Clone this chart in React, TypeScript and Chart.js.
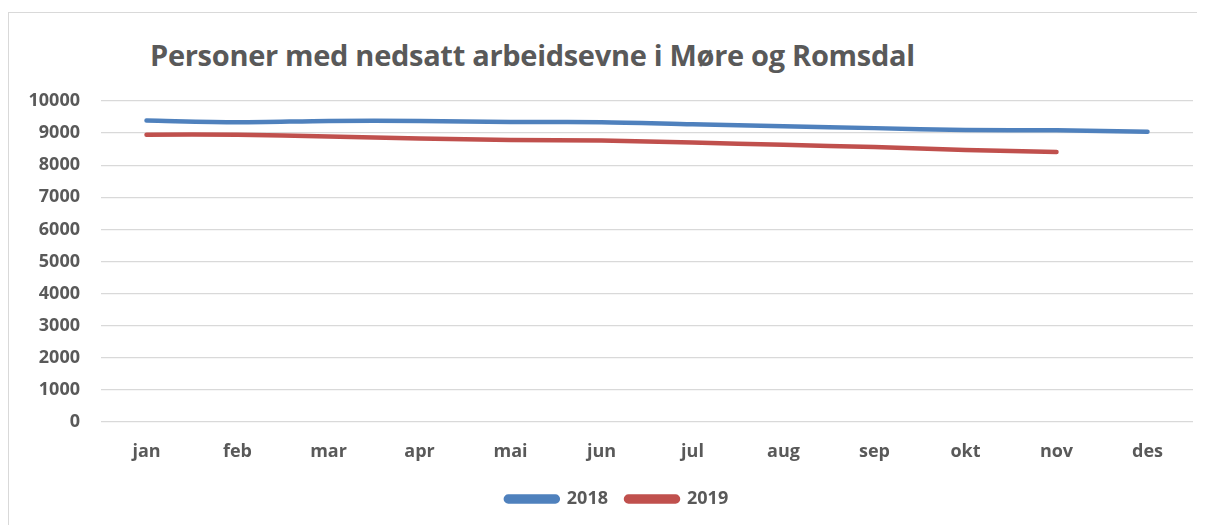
import React, { useEffect, useRef } from "react";
import { Chart, registerables } from "chart.js";

Chart.register(...registerables);

const months = ["jan", "feb", "mar", "apr", "mai", "jun", "jul", "aug", "sep", "okt", "nov", "des"];
const values2018 = [9390, 9340, 9380, 9380, 9345, 9340, 9275, 9215, 9155, 9095, 9090, 9040];
const values2019 = [8950, 8950, 8895, 8835, 8785, 8770, 8705, 8635, 8565, 8475, 8415];
const yTicks = [0, 1000, 2000, 3000, 4000, 5000, 6000, 7000, 8000, 9000, 10000];
const titleText = "Personer med nedsatt arbeidsevne i Møre og Romsdal";

const FONT = "'Open Sans', 'DejaVu Sans', sans-serif";
const GREY = "#595959";

const legendShift = {
  id: "legendShift",
  afterUpdate(chart: any) {
    const lg = chart.legend;
    if (lg) {
      lg.left += 16;
      lg.right += 16;
      if (lg.adjustHitBoxes) lg.adjustHitBoxes();
    }
  },
};

export default function App() {
  const ref = useRef<HTMLCanvasElement | null>(null);

  useEffect(() => {
    if (!ref.current) return;
    const chart = new Chart(ref.current, {
      type: "line",
      data: {
        labels: months,
        datasets: [
          {
            label: "2018",
            data: values2018,
            borderColor: "#4f81bd",
            backgroundColor: "#4f81bd",
            borderWidth: 4.5,
            borderCapStyle: "round",
            pointRadius: 0,
            tension: 0.3,
          },
          {
            label: "2019",
            data: values2019,
            borderColor: "#c0504d",
            backgroundColor: "#c0504d",
            borderWidth: 4.5,
            borderCapStyle: "round",
            pointRadius: 0,
            tension: 0.3,
          },
        ],
      },
      options: {
        animation: false,
        responsive: true,
        maintainAspectRatio: false,
        layout: { padding: { left: 0, right: 0, top: 88, bottom: 7 } },
        scales: {
          x: {
            offset: true,
            grid: { display: false, drawTicks: false },
            border: { display: false },
            ticks: {
              color: GREY,
              font: { family: FONT, weight: "bold", size: 18 },
              padding: 19,
            },
            afterFit: (s: any) => {
              s.height = 50;
            },
          },
          y: {
            min: 0,
            max: 10000,
            afterBuildTicks: (s: any) => {
              s.ticks = yTicks.map((v) => ({ value: v }));
            },
            grid: { color: "#d9d9d9", lineWidth: 1.3, drawTicks: false },
            border: { display: false },
            ticks: {
              color: GREY,
              font: { family: FONT, weight: "bold", size: 18 },
              padding: 21,
              callback: (v: any) => String(v),
            },
            afterFit: (s: any) => {
              s.width = 92;
            },
          },
        },
        plugins: {
          title: { display: false },
          tooltip: { enabled: false },
          legend: {
            display: true,
            position: "bottom",
            labels: {
              color: GREY,
              font: { family: FONT, weight: "bold", size: 18 },
              boxWidth: 52,
              boxHeight: 5,
              useBorderRadius: true,
              borderRadius: 2.5,
              padding: 18,
            },
          },
        },
      },
      plugins: [legendShift],
    });
    return () => chart.destroy();
  }, []);

  return (
    <div
      style={{
        position: "relative",
        marginTop: 4,
        width: 1197,
        height: 513,
        borderTop: "1px solid #d9d9d9",
        borderLeft: "1px solid #d9d9d9",
        boxSizing: "border-box",
        background: "#fff",
        overflow: "hidden",
      }}
    >
      <div
        style={{
          position: "absolute",
          left: 141,
          top: 22,
          fontFamily: FONT,
          fontWeight: 700,
          fontSize: 29,
          color: GREY,
          whiteSpace: "nowrap",
          letterSpacing: -0.3,
        }}
      >
        {titleText}
      </div>
      <div style={{ position: "absolute", left: 0, top: 0, width: 1184, height: 512 }}>
        <canvas ref={ref} />
      </div>
    </div>
  );
}
